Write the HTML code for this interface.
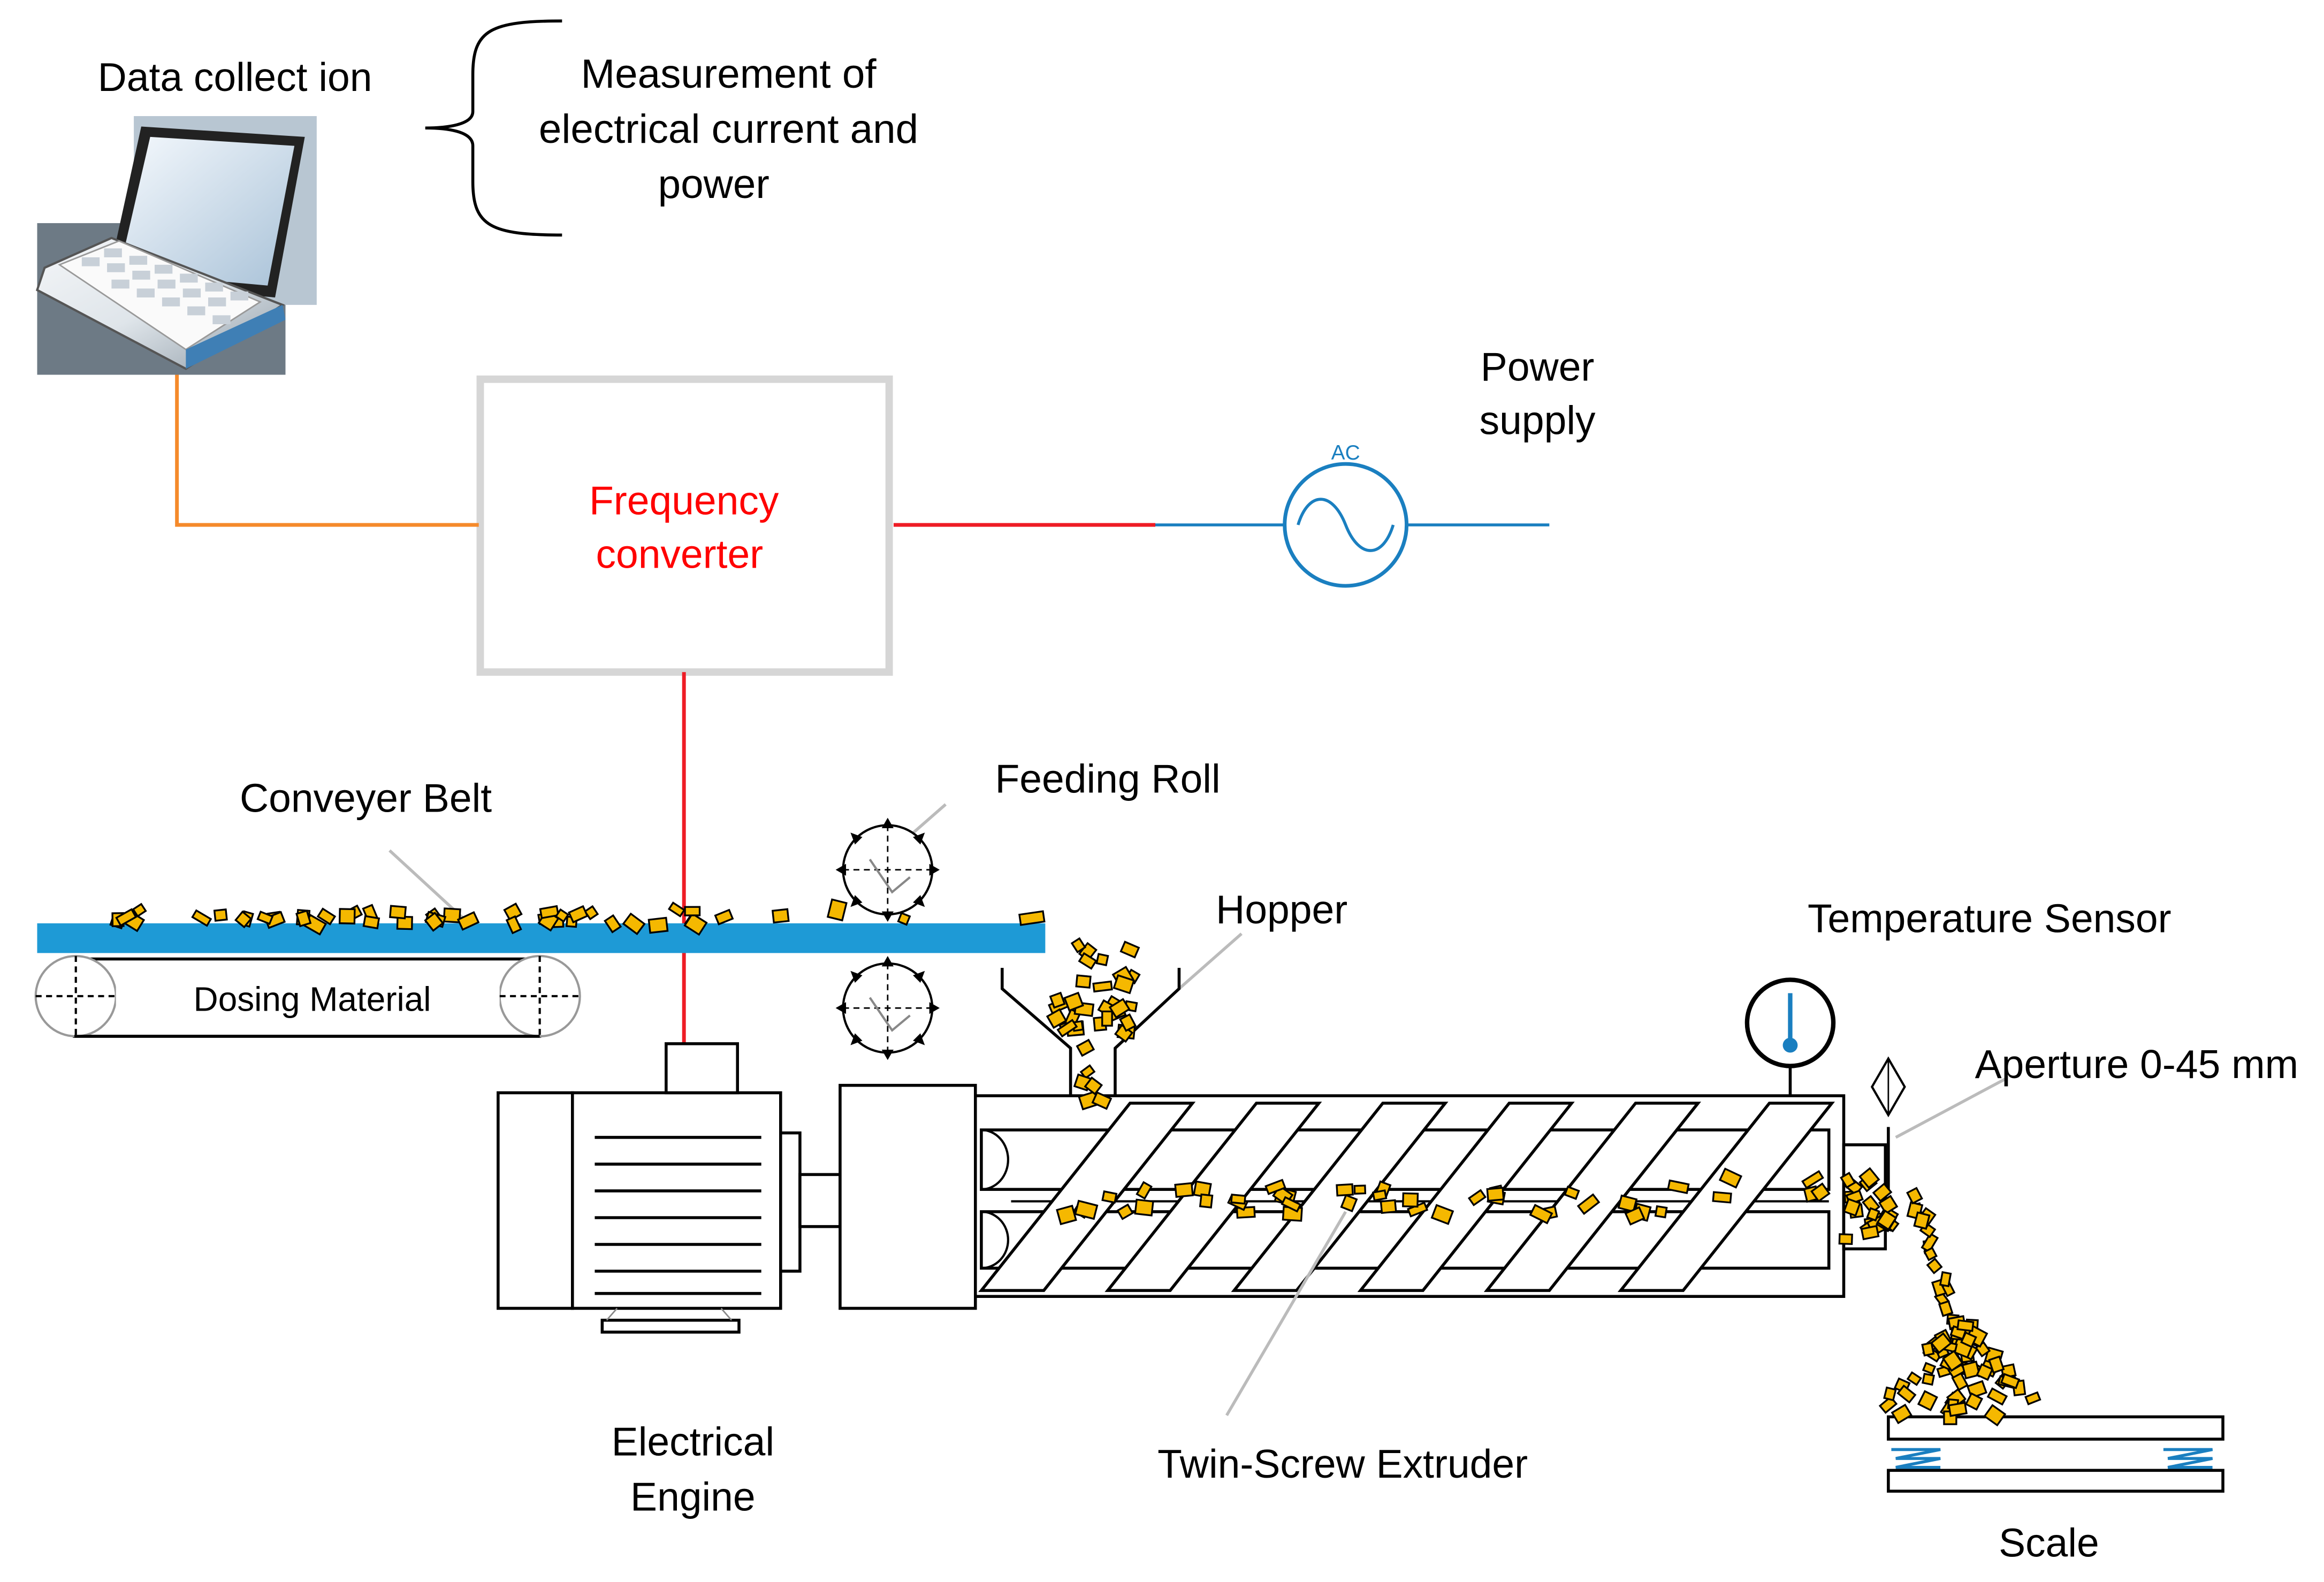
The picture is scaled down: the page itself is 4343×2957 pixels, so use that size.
<!DOCTYPE html>
<html><head><meta charset="utf-8"><style>
html,body{margin:0;padding:0;background:#fff;}
svg{display:block;}
text{font-family:"Liberation Sans",sans-serif;}
</style></head><body>
<svg id="s" width="4343" height="2957" viewBox="0 0 1563 1064" xmlns="http://www.w3.org/2000/svg">
<defs>
<linearGradient id="lg" x1="0" y1="0" x2="1" y2="1">
<stop offset="0" stop-color="#f4f6f8"/><stop offset="0.5" stop-color="#dfe5ea"/><stop offset="1" stop-color="#8f9ca7"/></linearGradient>
<linearGradient id="sc" x1="0" y1="0" x2="1" y2="1">
<stop offset="0" stop-color="#f5f9fd"/><stop offset="1" stop-color="#a9c2d8"/></linearGradient>
</defs>
<rect width="1563" height="1064" fill="#fff"/>
<text x="158" y="61" font-size="27" text-anchor="middle">Data collect ion</text>
<text x="490" y="59" font-size="27.5" text-anchor="middle">Measurement of</text>
<text x="490" y="96" font-size="27.5" text-anchor="middle">electrical current and</text>
<text x="480" y="133" font-size="27.5" text-anchor="middle">power</text>
<path d="M378,14 C330,14 318,20 318,50 L318,75 C318,84 300,86 286,86 C300,86 318,88 318,98 L318,122 C318,152 330,158 378,158" fill="none" stroke="#000" stroke-width="2"/>
<!-- laptop -->
<rect x="25" y="150" width="167" height="102" fill="#6d7a85"/>
<rect x="90" y="78" width="123" height="127" fill="#b8c6d2"/>
<polygon points="95,85 205,92 185,200 72,190" fill="#222"/>
<polygon points="101,92 198,98 180,192 80,183" fill="url(#sc)"/>
<polygon points="30,180 75,160 190,205 125,248 25,195" fill="url(#lg)" stroke="#555" stroke-width="1.5"/>
<polygon points="40,178 80,162 175,203 125,235" fill="#fafafa" stroke="#999"/>
<g fill="#c8d0d8">
<rect x="55" y="173" width="12" height="6"/><rect x="72" y="177" width="12" height="6"/><rect x="89" y="182" width="12" height="6"/><rect x="106" y="188" width="12" height="6"/><rect x="123" y="194" width="12" height="6"/><rect x="140" y="200" width="12" height="6"/>
<rect x="70" y="167" width="12" height="6"/><rect x="87" y="172" width="12" height="6"/><rect x="104" y="178" width="12" height="6"/><rect x="121" y="184" width="12" height="6"/><rect x="138" y="190" width="12" height="6"/><rect x="155" y="196" width="12" height="6"/>
<rect x="75" y="188" width="12" height="6"/><rect x="92" y="194" width="12" height="6"/><rect x="109" y="200" width="12" height="6"/><rect x="126" y="206" width="12" height="6"/><rect x="143" y="212" width="12" height="6"/>
</g>
<polygon points="125,235 190,205 192,215 125,248" fill="#3f7fb5"/>
<!-- Frequency converter -->
<rect x="323" y="255" width="275" height="197" fill="#fff" stroke="#d6d6d6" stroke-width="5"/>
<text x="460" y="346" font-size="27" fill="#ff0000" text-anchor="middle">Frequency</text>
<text x="457" y="382" font-size="27" fill="#ff0000" text-anchor="middle">converter</text>
<polyline points="119,252 119,353 322,353" fill="none" stroke="#f58a2b" stroke-width="2.5"/>
<line x1="601" y1="353" x2="777" y2="353" stroke="#ee1c25" stroke-width="2.5"/>
<line x1="777" y1="353" x2="864" y2="353" stroke="#1a7fc0" stroke-width="2"/>
<circle cx="905" cy="353" r="41" fill="none" stroke="#1a7fc0" stroke-width="2.5"/>
<path d="M873,353 C880,330 896,330 905,353 C914,376 930,376 937,353" fill="none" stroke="#1a7fc0" stroke-width="2"/>
<line x1="946" y1="353" x2="1042" y2="353" stroke="#1a7fc0" stroke-width="2"/>
<text x="905" y="309" font-size="14" fill="#1a7fc0" text-anchor="middle">AC</text>
<text x="1034" y="256" font-size="27" text-anchor="middle">Power</text>
<text x="1034" y="292" font-size="27" text-anchor="middle">supply</text>
<line x1="460" y1="452" x2="460" y2="702" stroke="#ee1c25" stroke-width="2.5"/>
<!-- conveyor -->
<text x="246" y="546" font-size="27" text-anchor="middle">Conveyer Belt</text>
<line x1="262" y1="572" x2="325" y2="630" stroke="#bbb" stroke-width="2"/>
<rect x="25" y="621" width="678" height="20" fill="#1e9ad6"/>
<rect x="50" y="645" width="313" height="52" fill="none" stroke="#000" stroke-width="2"/>
<g fill="#fff" stroke="#999" stroke-width="1.5">
<circle cx="51" cy="670" r="27"/><circle cx="363" cy="670" r="27"/></g>
<g stroke="#000" stroke-dasharray="4,3" stroke-width="1.5">
<line x1="24" y1="670" x2="78" y2="670"/><line x1="51" y1="643" x2="51" y2="697"/>
<line x1="336" y1="670" x2="390" y2="670"/><line x1="363" y1="643" x2="363" y2="697"/></g>
<rect x="78" y="650" width="258" height="42" fill="#fff"/>
<line x1="50" y1="697" x2="363" y2="697" stroke="#000" stroke-width="2"/>
<text x="210" y="680" font-size="23" text-anchor="middle">Dosing Material</text>
<!-- feeding roll -->
<text x="745" y="533" font-size="27" text-anchor="middle">Feeding Roll</text>
<line x1="612" y1="562" x2="636" y2="541" stroke="#bbb" stroke-width="2"/>
<g id="gear">
<circle cx="597" cy="585" r="30" fill="#fff" stroke="#000" stroke-width="1.5"/>
<g fill="#000"><polygon points="597,550 593,557 601,557"/><polygon points="597,620 593,613 601,613"/><polygon points="562,585 569,581 569,589"/><polygon points="632,585 625,581 625,589"/>
<polygon points="572,560 575,568 580,563"/><polygon points="622,560 614,563 619,568"/><polygon points="572,610 580,607 575,602"/><polygon points="622,610 619,602 614,607"/></g>
<line x1="567" y1="585" x2="627" y2="585" stroke="#000" stroke-dasharray="4,3"/>
<line x1="597" y1="555" x2="597" y2="615" stroke="#000" stroke-dasharray="4,3"/>
<path d="M585,578 L600,600 L612,590" fill="none" stroke="#888" stroke-width="1.5"/>
</g>
<use href="#gear" y="93"/>
<!-- hopper -->
<text x="862" y="621" font-size="27" text-anchor="middle">Hopper</text>
<line x1="793" y1="665" x2="835" y2="628" stroke="#bbb" stroke-width="2"/>
<polyline points="674,651 674,665 720,705 720,737" fill="none" stroke="#000" stroke-width="2"/>
<polyline points="793,651 793,665 750,705 750,737" fill="none" stroke="#000" stroke-width="2"/>
<!-- motor -->
<g fill="#fff" stroke="#000" stroke-width="2">
<rect x="335" y="735" width="50" height="145"/>
<rect x="385" y="735" width="140" height="145"/>
<rect x="448" y="702" width="48" height="33"/>
<rect x="525" y="762" width="13" height="93"/>
<rect x="538" y="790" width="27" height="35"/>
<rect x="405" y="888" width="92" height="8"/>
<rect x="565" y="730" width="91" height="150"/>
</g>
<g stroke="#000" stroke-width="2">
<line x1="400" y1="765" x2="512" y2="765"/><line x1="400" y1="783" x2="512" y2="783"/><line x1="400" y1="801" x2="512" y2="801"/>
<line x1="400" y1="819" x2="512" y2="819"/><line x1="400" y1="837" x2="512" y2="837"/><line x1="400" y1="855" x2="512" y2="855"/><line x1="400" y1="870" x2="512" y2="870"/>
</g>
<g stroke="#888" stroke-width="1"><line x1="415" y1="880" x2="408" y2="888"/><line x1="485" y1="880" x2="492" y2="888"/></g>
<text x="466" y="979" font-size="27" text-anchor="middle">Electrical</text>
<text x="466" y="1016" font-size="27" text-anchor="middle">Engine</text>
<!-- extruder -->
<g fill="#fff" stroke="#000" stroke-width="2">
<rect x="656" y="737" width="584" height="135"/>
<rect x="660" y="760" width="570" height="40"/>
<rect x="660" y="815" width="570" height="38"/>
<rect x="1240" y="770" width="28" height="70"/>
</g>
<path d="M660,760 A18,20 0 0 1 660,800" fill="none" stroke="#000" stroke-width="1.5"/>
<path d="M660,815 A18,19 0 0 1 660,853" fill="none" stroke="#000" stroke-width="1.5"/>
<line x1="680" y1="808" x2="1230" y2="808" stroke="#000" stroke-width="1.5"/>
<g fill="#fff" stroke="#000" stroke-width="2" id="fl"></g>
<text x="903" y="994" font-size="27" text-anchor="middle">Twin-Screw Extruder</text>
<line x1="825" y1="952" x2="905" y2="815" stroke="#bbb" stroke-width="2"/>
<!-- temp sensor -->
<line x1="1204" y1="717" x2="1204" y2="737" stroke="#000" stroke-width="2"/>
<circle cx="1204" cy="688" r="29" fill="#fff" stroke="#000" stroke-width="3"/>
<line x1="1204" y1="668" x2="1204" y2="702" stroke="#1a7fc0" stroke-width="3"/>
<circle cx="1204" cy="703" r="5" fill="#1a7fc0"/>
<text x="1338" y="627" font-size="27" text-anchor="middle">Temperature Sensor</text>
<!-- aperture -->
<polygon points="1270,712 1281,731 1270,750 1259,731" fill="none" stroke="#000" stroke-width="1.5"/>
<line x1="1270" y1="712" x2="1270" y2="750" stroke="#000" stroke-width="1"/>
<line x1="1270" y1="758" x2="1270" y2="800" stroke="#000" stroke-width="2"/>
<line x1="1275" y1="765" x2="1350" y2="725" stroke="#bbb" stroke-width="2"/>
<text x="1437" y="725" font-size="27" text-anchor="middle">Aperture 0-45 mm</text>
<!-- scale -->
<rect x="1270" y="953" width="225" height="15" fill="#fff" stroke="#000" stroke-width="2"/>
<rect x="1270" y="989" width="225" height="14" fill="#fff" stroke="#000" stroke-width="2"/>
<g stroke="#1a7fc0" stroke-width="2" fill="none">
<polyline points="1272,975 1305,975 1275,981 1305,981 1275,987 1305,987"/>
<polyline points="1455,975 1488,975 1458,981 1488,981 1458,987 1488,987"/></g>
<text x="1378" y="1047" font-size="27" text-anchor="middle">Scale</text>
<g id="pt" fill="#f5b800" stroke="#000" stroke-width="1.2"></g>
</svg>
<script>
var ns="http://www.w3.org/2000/svg";
var fl=document.getElementById('fl');
[660,745,830,915,1000,1090].forEach(function(x){
 var p=document.createElementNS(ns,'polygon');
 p.setAttribute('points',(x)+',868 '+(x+42)+',868 '+(x+142)+',742 '+(x+100)+',742');
 fl.appendChild(p);
});
var seed=7;function r(){seed=(seed*16807)%2147483647;return seed/2147483647;}
var g=document.getElementById('pt');
function add(x,y,w,h){var e=document.createElementNS(ns,'rect');e.setAttribute('x',x);e.setAttribute('y',y);e.setAttribute('width',w);e.setAttribute('height',h);
e.setAttribute('transform','rotate('+(r()*80-40)+' '+(x+w/2)+' '+(y+h/2)+')');g.appendChild(e);}
var i;
for(i=0;i<45;i++){add(75+r()*420,608+r()*10,6+r()*6,5+r()*5);}
add(520,612,10,8);add(558,606,10,12);add(605,615,6,6);add(686,614,16,7);
for(i=0;i<30;i++){add(705+r()*55,632+r()*60,6+r()*6,5+r()*5);}
for(i=0;i<6;i++){add(722+r()*18,700+r()*38,6+r()*6,5+r()*4);}
for(i=0;i<45;i++){var x=700+r()*530;add(x,795+r()*20-(x>1150?10:0),6+r()*7,5+r()*5);}
for(i=0;i<25;i++){add(1236+r()*30,786+r()*45,6+r()*5,5+r()*5);}
for(i=0;i<20;i++){var t=r();add(1280+t*35+r()*8,800+t*110,5+r()*4,6+r()*5);}
for(i=0;i<60;i++){var h=r();var w=(1-h)*50+8;add(1315-w+r()*2*w,945-h*60+r()*5,6+r()*5,5+r()*5);}
</script>
</body></html>
